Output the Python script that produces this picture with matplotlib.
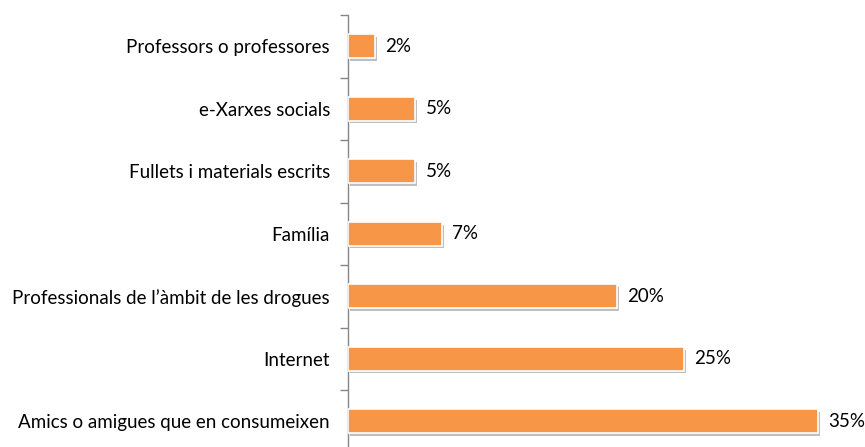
import numpy as np
import matplotlib.pyplot as plt
import matplotlib as mpl
import matplotlib.patheffects as pe

mpl.rcParams["font.family"] = ["Lato", "DejaVu Sans"]

categories = [
    "Professors o professores",
    "e-Xarxes socials",
    "Fullets i materials escrits",
    "Família",
    "Professionals de l\u2019àmbit de les drogues",
    "Internet",
    "Amics o amigues que en consumeixen",
]
values = [2, 5, 5, 7, 20, 25, 35]
value_labels = ["2%", "5%", "5%", "7%", "20%", "25%", "35%"]

W, H = 865, 447
fig = plt.figure(figsize=(W / 100, H / 100), dpi=100)

# axes from x=348 px to right edge, category bands 62.5 px tall starting at y=15
left = 348 / W
top_px = 15
band = 62.5
bottom_px = top_px + band * len(categories)
ax = fig.add_axes([left, 1 - bottom_px / H, 1 - left, (bottom_px - top_px) / H])

y = np.arange(len(categories))
shadow = [pe.SimplePatchShadow(offset=(1.5, -2), shadow_rgbFace="#808080", alpha=0.5), pe.Normal()]
bars = ax.barh(y, values, height=0.38, color="#F79646", edgecolor="white",
               linewidth=1.2, path_effects=shadow, zorder=3)

for yi, v, lab in zip(y, values, value_labels):
    ax.annotate(lab, (v, yi), xytext=(7.5, 0), textcoords="offset points",
                va="center", ha="left", fontsize=13.5, color="#000000")

ax.set_xlim(0, 517 / 13.43)
ax.set_ylim(len(categories) - 0.5, -0.5)

ax.set_yticks(y)
ax.set_yticklabels(categories, fontsize=13.5)
ax.tick_params(axis="y", which="major", length=0, pad=13)
ax.set_yticks(np.arange(-0.5, len(categories), 1), minor=True)
ax.tick_params(axis="y", which="minor", length=6, color="#868686", width=1)

ax.set_xticks([])
for s in ["top", "right", "bottom"]:
    ax.spines[s].set_visible(False)
ax.spines["left"].set_color("#868686")
ax.spines["left"].set_linewidth(1)

fig.savefig("out.png", dpi=100)
